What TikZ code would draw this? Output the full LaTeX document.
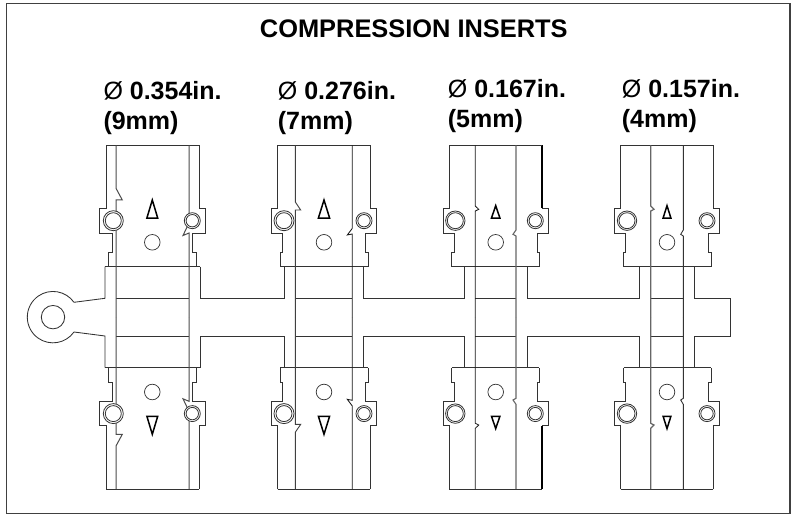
\documentclass[tikz,border=0pt]{standalone}
\usepackage{fontspec}
\setmainfont{Liberation Sans}
\tikzset{
  lineart/.style={draw=black!80,line width=0.85pt,line join=miter},
  ring/.style={draw=black!80,line width=0.8pt,fill=white},
  arrowmark/.style={draw=black,line width=1.5pt,line join=miter,miter limit=20},
  hole/.style={draw=black!80,line width=0.7pt,fill=white},
  txt/.style={inner sep=0pt,anchor=base west,font=\fontsize{25}{30}\selectfont\bfseries},
}
\newcommand{\dia}{{\mdseries\O}}
\begin{document}
\begin{tikzpicture}[x=1pt,y=-1pt]
\useasboundingbox (0,0) rectangle (793,516);
\fill[white] (0,0) rectangle (793,516);
\draw[draw=black!75,line width=1.2pt] (6.3,3.7) rectangle (790,513.7);
\node[inner sep=0pt,anchor=base,font=\fontsize{25.4}{30}\selectfont\bfseries] (title) at (413.8,37.7) {COMPRESSION INSERTS};
\node[txt] (a1) at (103.3,99.6) {\dia{} 0.354in.};
\node[txt] (a2) at (103.3,129.6) {(9mm)};
\node[txt] (b1) at (277.7,99.6) {\dia{} 0.276in.};
\node[txt] (b2) at (277.7,129.6) {(7mm)};
\node[txt] (c1) at (447.7,98) {\dia{} 0.167in.};
\node[txt] (c2) at (447.7,128) {(5mm)};
\node[txt] (d1) at (621.7,98) {\dia{} 0.157in.};
\node[txt] (d2) at (621.7,128) {(4mm)};
\foreach \flip in {0,1}{
\begin{scope}[yshift=-\flip*634.3pt,yscale=1-2*\flip]
  % eyelet and rail
  \draw[lineart] (53,317.15) ++(35.3:25.7pt) arc[start angle=35.3,end angle=180,radius=25.7pt];
  \draw[lineart] (74,302.3) -- (105,298.3) -- (105,266.7);
  \draw[lineart] (200,266.7) -- (200,298.3) -- (284.7,298.3) -- (284.7,266.7);
  \draw[lineart] (363.7,266.7) -- (363.7,298.3) -- (464.3,298.3) -- (464.3,266.7);
  \draw[lineart] (527,266.7) -- (527,298.3) -- (639.7,298.3) -- (639.7,266.7);
  \draw[lineart] (694.3,266.7) -- (694.3,298.3) -- (730.7,298.3) -- (730.7,317.15);
  \foreach \ol/\orr/\el/\er/\sla/\slb/\sra/\srb/\bl/\br/\il/\ir/\nla/\nlx/\nly/\nlb/\nra/\nrx/\nry/\nrb/\cl/\cr/\rr/\tx/\ty/\tw/\cil/\wil/\cir/\wir/\cor/\wor in {
    106/199/99.7/205/112/108.5/192.7/196/105/200/116/189/188.3/122.3/200/200/223/183/235.5/233/113.3/192.3/10/152.3/200/5.4/black!70/1/black!70/1/black!80/0.85,
    277.7/370.3/271.7/376.3/282.7/280.3/365.7/368/280.3/368/295.3/352.3/202/300.7/210/210/228.3/347.3/235/234/284/364/10/324/200/5.6/black!75/0.9/black!90/0.85/black!80/0.85,
    449.3/542/443/548.3/454/451.7/537.3/539.3/451.7/539.3/475.3/516/206/478.7/209.3/211/230/513/234.3/236/455.3/535.3/9.7/495.7/205.7/4.2/black!90/0.85/black!60/1.1/black/1.3,
    620.7/713.3/614.7/719.7/625.7/623.7/708.7/711/623.7/711/650.7/683.3/206/654/209.3/211/230/680.7/234.3/236/627/707/9.7/667/205.7/3.9/black!60/1.2/black!80/0.9/black!80/0.85
  }{
    \draw[lineart] (\ol,145.3) -- (\ol,208.5) -- (\el,208.5) -- (\el,233) -- (\sla,233) -- (\sla,252.3) -- (\slb,252.3) -- (\slb,266.7);
    \draw[lineart,draw=\cor,line width=\wor pt] (\orr,145.3) -- (\orr,208.5);
    \draw[lineart] (\orr,208.5) -- (\er,208.5) -- (\er,233) -- (\sra,233) -- (\sra,252.3) -- (\srb,252.3) -- (\srb,266.7);
    \draw[lineart] (\ol,145.3) -- (\orr,145.3);
    \draw[lineart] (\bl,266.7) -- (\br,266.7);
    \draw[lineart] (\il,298.3) -- (\ir,298.3);
    \draw[lineart,draw=\cil,line width=\wil pt] (\il,145.3) -- (\il,\nla) -- (\nlx,\nly) -- (\il,\nlb) -- (\il,317.15);
    \draw[lineart,draw=\cir,line width=\wir pt] (\ir,145.3) -- (\ir,\nra) -- (\nrx,\nry) -- (\ir,\nrb) -- (\ir,317.15);
    \draw[ring] (\cl,220.7) circle[radius=\rr pt];
    \draw[ring] (\cl,220.7) circle[radius=8pt];
    \draw[ring] (\cr,220.7) circle[radius=8pt];
    \draw[ring] (\cr,220.7) circle[radius=6.2pt];
    \draw[arrowmark] (\tx,\ty) -- (\tx+\tw,218) -- (\tx-\tw,218) -- cycle;
    \draw[hole] (\tx,242.3) circle[radius=7.8pt];
  }
\end{scope}
}
\draw[lineart,fill=white] (53,317.15) circle[radius=11.7pt];
\end{tikzpicture}
\end{document}
